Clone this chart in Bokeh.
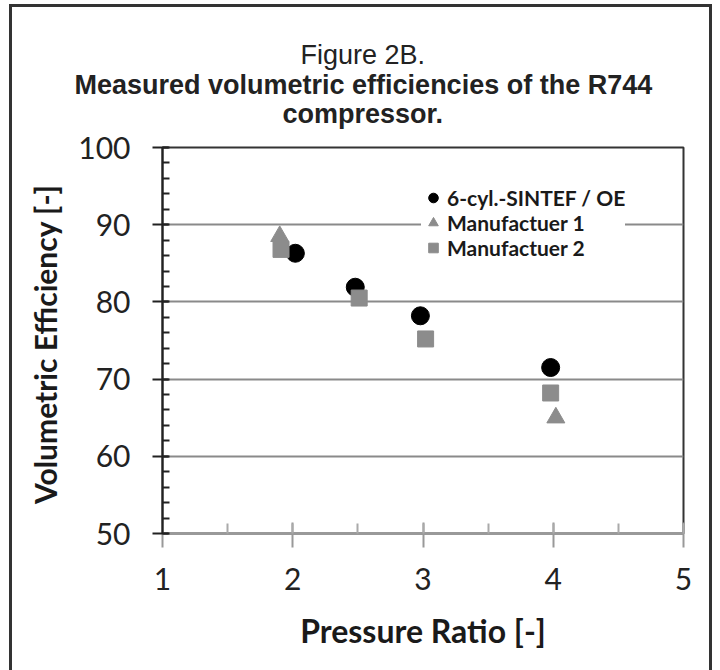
from bokeh.plotting import figure
from bokeh.models import Title, Range1d, Legend, LegendItem, SingleIntervalTicker
from bokeh.embed import file_html
from bokeh.resources import INLINE

x_sintef = [2.02, 2.48, 2.98, 3.98]
y_sintef = [86.3, 81.9, 78.2, 71.5]
x_man1 = [1.90, 4.02]
y_man1 = [88.5, 65.0]
x_man2 = [1.91, 2.51, 3.02, 3.98]
y_man2 = [86.8, 80.5, 75.2, 68.2]
names = ["6-cyl.-SINTEF / OE", "Manufactuer 1", "Manufactuer 2"]
title_lines = ["Figure 2B.", "Measured volumetric efficiencies of the R744", "compressor."]

W, H = 720, 670
FL, FR, FT, FB = 162, 683, 147, 533  # frame edges in canvas pixels
p = figure(width=W, height=H, output_backend="svg", toolbar_location=None,
           x_range=Range1d(1, 5), y_range=Range1d(50, 100),
           min_border_left=FL, min_border_right=W - FR, min_border_top=FT, min_border_bottom=H - FB)
p.background_fill_color = "white"
p.border_fill_alpha = 0
p.outline_line_color = "#333333"
p.outline_line_width = 2
# outer frame of the figure panel (drawn behind the transparent canvas border)
p.styles = {
    "background-color": "white",
    "background-image": "linear-gradient(#333,#333), linear-gradient(#333,#333), linear-gradient(#333,#333)",
    "background-position": "9px 4px, 709px 4px, 9px 4px",
    "background-size": "3px 700px, 3px 700px, 703px 3px",
    "background-repeat": "no-repeat",
}

TF = "Lato"
xa = p.xaxis[0]
xa.ticker = SingleIntervalTicker(interval=1, num_minor_ticks=2)
xa.axis_label = "Pressure Ratio [-]"
xa.axis_label_text_font = TF
xa.axis_label_text_font_style = "bold"
xa.axis_label_text_font_size = "32px"
xa.axis_label_text_color = "#1a1a1a"
xa.axis_label_standoff = 18
xa.major_label_text_font = TF
xa.major_label_text_font_size = "30px"
xa.major_label_text_color = "#222222"
xa.major_label_standoff = 20
xa.axis_line_color = "#999999"
xa.axis_line_width = 2
xa.major_tick_line_color = "#999999"
xa.major_tick_line_width = 2
xa.major_tick_in = 11
xa.major_tick_out = 14
xa.minor_tick_line_color = "#aaaaaa"
xa.minor_tick_line_width = 2
xa.minor_tick_in = 10
xa.minor_tick_out = 0

ya = p.yaxis[0]
ya.ticker = SingleIntervalTicker(interval=10, num_minor_ticks=5)
ya.axis_label = "Volumetric  Efficiency [-]"
ya.axis_label_text_font = TF
ya.axis_label_text_font_style = "bold"
ya.axis_label_text_font_size = "30px"
ya.axis_label_text_color = "#1a1a1a"
ya.axis_label_standoff = 12
ya.major_label_text_font = TF
ya.major_label_text_font_size = "30px"
ya.major_label_text_color = "#222222"
ya.major_label_standoff = 22
ya.axis_line_color = "#222222"
ya.axis_line_width = 2
ya.major_tick_line_color = "#222222"
ya.major_tick_line_width = 2
ya.major_tick_in = 6
ya.major_tick_out = 10
ya.minor_tick_line_color = "#222222"
ya.minor_tick_line_width = 2
ya.minor_tick_in = 7
ya.minor_tick_out = 0

p.xgrid.grid_line_color = None
p.ygrid.grid_line_color = "#8a8a8a"
p.ygrid.grid_line_width = 2

r1 = p.scatter(x_sintef, y_sintef, marker="circle", size=18, fill_color="black", line_color="black")
r3 = p.scatter(x_man2, y_man2, marker="square", size=16, fill_color="#8c8c8c", line_color="#8c8c8c")
r2 = p.scatter(x_man1, y_man1, marker="triangle", size=18, fill_color="#8c8c8c", line_color="#8c8c8c")

leg = Legend(items=[LegendItem(label=names[0], renderers=[r1]),
                    LegendItem(label=names[1], renderers=[r2]),
                    LegendItem(label=names[2], renderers=[r3])],
             location=(259, 273), border_line_color=None, background_fill_color="white",
             background_fill_alpha=1.0, label_text_font=TF, label_text_font_style="bold",
             label_text_font_size="21px", label_text_color="#1a1a1a",
             glyph_width=24, glyph_height=25, spacing=0, padding=6, margin=0,
             label_standoff=2, label_height=25)
p.add_layout(leg, "center")

TT = "Liberation Sans"
# small spacer between the frame and the title block
p.add_layout(Title(text=" ", text_font_size="2px", standoff=16), "above")
# titles stack upward from the frame: add the lowest line first
offsets = {0: 138, 1: -88, 2: 120}
standoffs = {0: 0, 1: -3, 2: -3}
for i in (2, 1, 0):
    p.add_layout(Title(text=title_lines[i], align="left", offset=offsets[i],
                       text_font=TT, text_font_size="27px",
                       text_font_style="normal" if i == 0 else "bold",
                       text_color="#222222", standoff=standoffs[i]), "above")

open("out.html", "w").write(file_html(p, INLINE))
